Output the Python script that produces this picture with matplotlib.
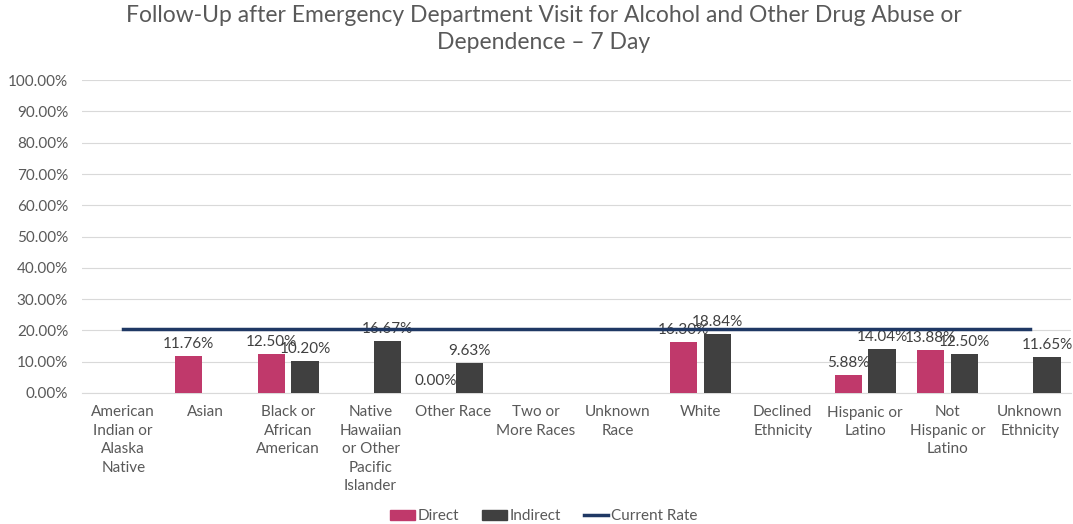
import numpy as np
import matplotlib.pyplot as plt
from matplotlib.ticker import FuncFormatter
from matplotlib.patches import Patch
from matplotlib.lines import Line2D

categories = ['American\nIndian or\nAlaska\nNative', 'Asian', 'Black or\nAfrican\nAmerican',
              'Native\nHawaiian\nor Other\nPacific\nIslander', 'Other Race', 'Two or\nMore Races',
              'Unknown\nRace', 'White', 'Declined\nEthnicity', 'Hispanic or\nLatino',
              'Not\nHispanic or\nLatino', 'Unknown\nEthnicity']
direct = [None, 11.76, 12.50, None, 0.00, None, None, 16.30, None, 5.88, 13.88, None]
indirect = [None, None, 10.20, 16.67, 9.63, None, None, 18.84, None, 14.04, 12.50, 11.65]
current_rate = 20.6

plt.rcParams['font.family'] = ['Lato', 'DejaVu Sans']
grey = '#595959'
c_direct = '#C0396B'
c_indirect = '#404040'
c_rate = '#1F3864'

fig = plt.figure(figsize=(10.73, 5.24), dpi=100)
ax = fig.add_axes([0.0764, 0.25, 0.922, 0.597])

x = np.arange(len(categories))
w = 0.33
off = 0.205

for i, v in enumerate(direct):
    if v is None:
        continue
    ax.bar(x[i] - off, v, w, color=c_direct, zorder=3)
    ax.text(x[i] - off, v + 1.6, f'{v:.2f}%', ha='center', va='bottom', fontsize=11, color='#404040', zorder=4)
for i, v in enumerate(indirect):
    if v is None:
        continue
    ax.bar(x[i] + off, v, w, color=c_indirect, zorder=3)
    ax.text(x[i] + off, v + 1.6, f'{v:.2f}%', ha='center', va='bottom', fontsize=11, color='#404040', zorder=4)

ax.plot([x[0], x[-1]], [current_rate, current_rate], color=c_rate, lw=2.5, zorder=5)

ax.set_xlim(-0.5, len(categories) - 0.5)
ax.set_ylim(0, 100)
ax.set_yticks(np.arange(0, 101, 10))
ax.yaxis.set_major_formatter(FuncFormatter(lambda v, p: f'{v:.2f}%'))
ax.set_xticks(x)
ax.set_xticklabels(categories, fontsize=11, color=grey, va='top', linespacing=1.4)
ax.tick_params(axis='y', labelsize=11, labelcolor=grey, length=0, pad=10)
ax.tick_params(axis='x', length=0, pad=9)
ax.grid(axis='y', color='#D9D9D9', lw=0.8, zorder=0)
for s in ['top', 'right', 'left']:
    ax.spines[s].set_visible(False)
ax.spines['bottom'].set_color('#D9D9D9')

fig.suptitle('Follow-Up after Emergency Department Visit for Alcohol and Other Drug Abuse or\nDependence – 7 Day',
             x=0.507, y=0.99, fontsize=16.5, color=grey, linespacing=1.35)

handles = [Patch(color=c_direct), Patch(color=c_indirect), Line2D([], [], color=c_rate, lw=2.5)]
fig.legend(handles, ['Direct', 'Indirect', 'Current Rate'], loc='lower center', bbox_to_anchor=(0.507, -0.025),
           ncol=3, frameon=False, fontsize=11, labelcolor=grey, handlelength=1.6, handleheight=0.6,
           handletextpad=0.2, columnspacing=1.5)

fig.savefig('out.png', dpi=100)
